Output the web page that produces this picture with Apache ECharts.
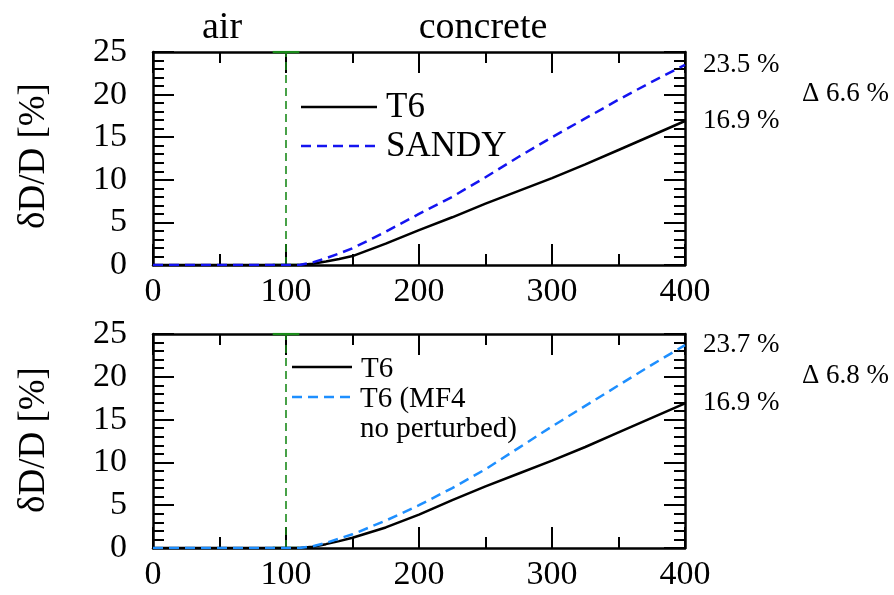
<!DOCTYPE html>
<html>
<head>
<meta charset="utf-8">
<script src="https://cdn.jsdelivr.net/npm/echarts@6/dist/echarts.min.js"></script>
<style>
  html, body { margin: 0; padding: 0; background: #fff; }
  #main { width: 894px; height: 595px; }
</style>
</head>
<body>
<div id="main"></div>
<script>
// depth (x) and relative change (%)
var depth = [0, 50, 100, 110, 120, 130, 140, 150, 175, 200, 225, 250, 275, 300, 325, 350, 375, 400];
var t6Top = [0, 0, 0, 0, 0.15, 0.4, 0.7, 1.05, 2.5, 4.1, 5.6, 7.2, 8.7, 10.2, 11.8, 13.5, 15.2, 16.9];
var sandy = [0, 0, 0, 0, 0.3, 0.8, 1.35, 1.96, 3.9, 6.0, 8.0, 10.3, 12.7, 15.0, 17.2, 19.4, 21.5, 23.5];
var t6Bottom = [0, 0, 0, 0, 0.15, 0.45, 0.8, 1.2, 2.4, 3.9, 5.6, 7.2, 8.7, 10.2, 11.8, 13.5, 15.2, 16.9];
var mf4 = [0, 0, 0, 0, 0.2, 0.6, 1.1, 1.6, 3.2, 5.0, 7.0, 9.2, 11.7, 14.2, 16.6, 19.0, 21.4, 23.7];

var boundary = [[100, 0], [100, 25]];   // air / concrete interface
var boundaryCap = [90, 110];
var regionNames = ['air', 'concrete'];
var namesTop = ['T6', 'SANDY'];
var namesBottom = ['T6', 'T6 (MF4', 'no perturbed)'];

var font = "'Liberation Serif', 'Times New Roman', serif";

function pairs(xs, ys) {
	var out = [];
	for (var i = 0; i < xs.length; i++) out.push([xs[i], ys[i]]);
	return out;
}
function last(a) { return a[a.length - 1]; }

var myChart = echarts.init(document.getElementById('main'));

// 0: top plot, 1: bottom plot, 2/3: strips whose edges close the bottom plot's frame
var grids = [
	{left: 153, top: 52, width: 532, height: 213},
	{left: 153, top: 334, width: 532, height: 214},
	{left: 153, top: 300, width: 532, height: 34},
	{left: 685, top: 334, width: 100, height: 214}
];

function xAxis(grid, pos, labels, inside) {
	return {
		type: 'value', gridIndex: grid, position: pos, min: 0, max: 400, interval: 100,
		axisLine: {show: true, onZero: false, lineStyle: {color: '#000', width: 2.5}},
		axisTick: {show: true, inside: inside, length: 21, lineStyle: {color: '#000', width: 2}},
		minorTick: {show: true, splitNumber: 2, length: 11, lineStyle: {color: '#000', width: 2}},
		splitLine: {show: false},
		axisLabel: {show: labels, fontSize: 34, fontFamily: font, color: '#000', margin: 10}
	};
}
function yAxis(grid, pos, labels, inside) {
	return {
		type: 'value', gridIndex: grid, position: pos, min: 0, max: 25, interval: 5,
		axisLine: {show: true, onZero: false, lineStyle: {color: '#000', width: 2.5}},
		axisTick: {show: true, inside: inside, length: 21, lineStyle: {color: '#000', width: 2}},
		minorTick: {show: true, splitNumber: 5, length: 11, lineStyle: {color: '#000', width: 2}},
		splitLine: {show: false},
		axisLabel: {show: labels, fontSize: 34, fontFamily: font, color: '#000', margin: 26}
	};
}
function hidden(grid) {
	return {type: 'value', gridIndex: grid, min: 0, max: 1, show: false};
}

function curve(name, grid, ys, color, dashed) {
	var s = {
		name: name, type: 'line', xAxisIndex: grid * 2, yAxisIndex: grid * 2,
		data: pairs(depth, ys), symbol: 'none',
		lineStyle: {color: color, width: 2.5},
		endLabel: {
			show: true, distance: 18, fontSize: 27, fontFamily: font, color: '#000',
			formatter: function (p) { return p.value[1].toFixed(1) + ' %'; }
		}
	};
	if (dashed) s.lineStyle.type = [10, 6];
	return s;
}

function boundarySeries(grid) {
	var s = [{
		type: 'line', xAxisIndex: grid * 2, yAxisIndex: grid * 2, data: boundary,
		symbol: 'none',
		lineStyle: {color: '#1a8a1a', width: 1.6, type: [8, 5]}
	}];
	[0, 25].forEach(function (y) {
		s.push({
			type: 'line', xAxisIndex: grid * 2, yAxisIndex: grid * 2,
			data: [[boundaryCap[0], y], [boundaryCap[1], y]],
			symbol: 'none',
			lineStyle: {color: '#1a8a1a', width: 2.5}
		});
	});
	return s;
}

var series = [].concat(
	boundarySeries(0), boundarySeries(1),
	[
		curve(namesTop[0], 0, t6Top, '#000', false),
		curve(namesTop[1], 0, sandy, '#1414f0', true),
		curve(namesBottom[0], 1, t6Bottom, '#000', false),
		curve(namesBottom[1], 1, mf4, '#1e8fff', true)
	]
);

var txt = function (x, y, text, size, align, rot) {
	var t = {type: 'text', x: x, y: y, style: {text: text, fontSize: size, fontFamily: font,
		fill: '#000', align: align || 'left', verticalAlign: 'middle'}};
	if (rot) t.rotation = rot;
	return t;
};
var seg = function (x1, x2, y, color, dashed) {
	var g = {type: 'line', shape: {x1: x1, y1: y, x2: x2, y2: y},
		style: {stroke: color, lineWidth: 2.5}};
	if (dashed) g.style.lineDash = [10, 6];
	return g;
};

var option = {
	animation: false,
	grid: grids,
	xAxis: [
		xAxis(0, 'bottom', true, true), xAxis(0, 'top', false, true),
		xAxis(1, 'bottom', true, true),
		xAxis(2, 'bottom', false, false),
		hidden(3)
	],
	yAxis: [
		yAxis(0, 'left', true, true), yAxis(0, 'right', false, true),
		yAxis(1, 'left', true, true),
		hidden(2),
		yAxis(3, 'left', false, false)
	],
	series: series,
	graphic: [
		txt(222, 28, regionNames[0], 38, 'center'),
		txt(483, 28, regionNames[1], 38, 'center'),
		txt(34, 156, 'δD/D [%]', 37, 'center', Math.PI / 2),
		txt(34, 440, 'δD/D [%]', 37, 'center', Math.PI / 2),
		// legends
		seg(301, 377, 107, '#000', false),
		txt(386, 108, namesTop[0], 35),
		seg(301, 377, 146, '#1414f0', true),
		txt(386, 147, namesTop[1], 35),
		seg(292, 352, 367, '#000', false),
		txt(361, 369, namesBottom[0], 29),
		seg(292, 352, 397, '#1e8fff', true),
		txt(360, 399, namesBottom[1], 29),
		txt(360, 429, namesBottom[2], 29),
		// differences at the end of the slab
		txt(802, 94, 'Δ ' + (last(sandy) - last(t6Top)).toFixed(1) + ' %', 27),
		txt(802, 376, 'Δ ' + (last(mf4) - last(t6Bottom)).toFixed(1) + ' %', 27)
	]
};

myChart.setOption(option);
</script>
</body>
</html>
